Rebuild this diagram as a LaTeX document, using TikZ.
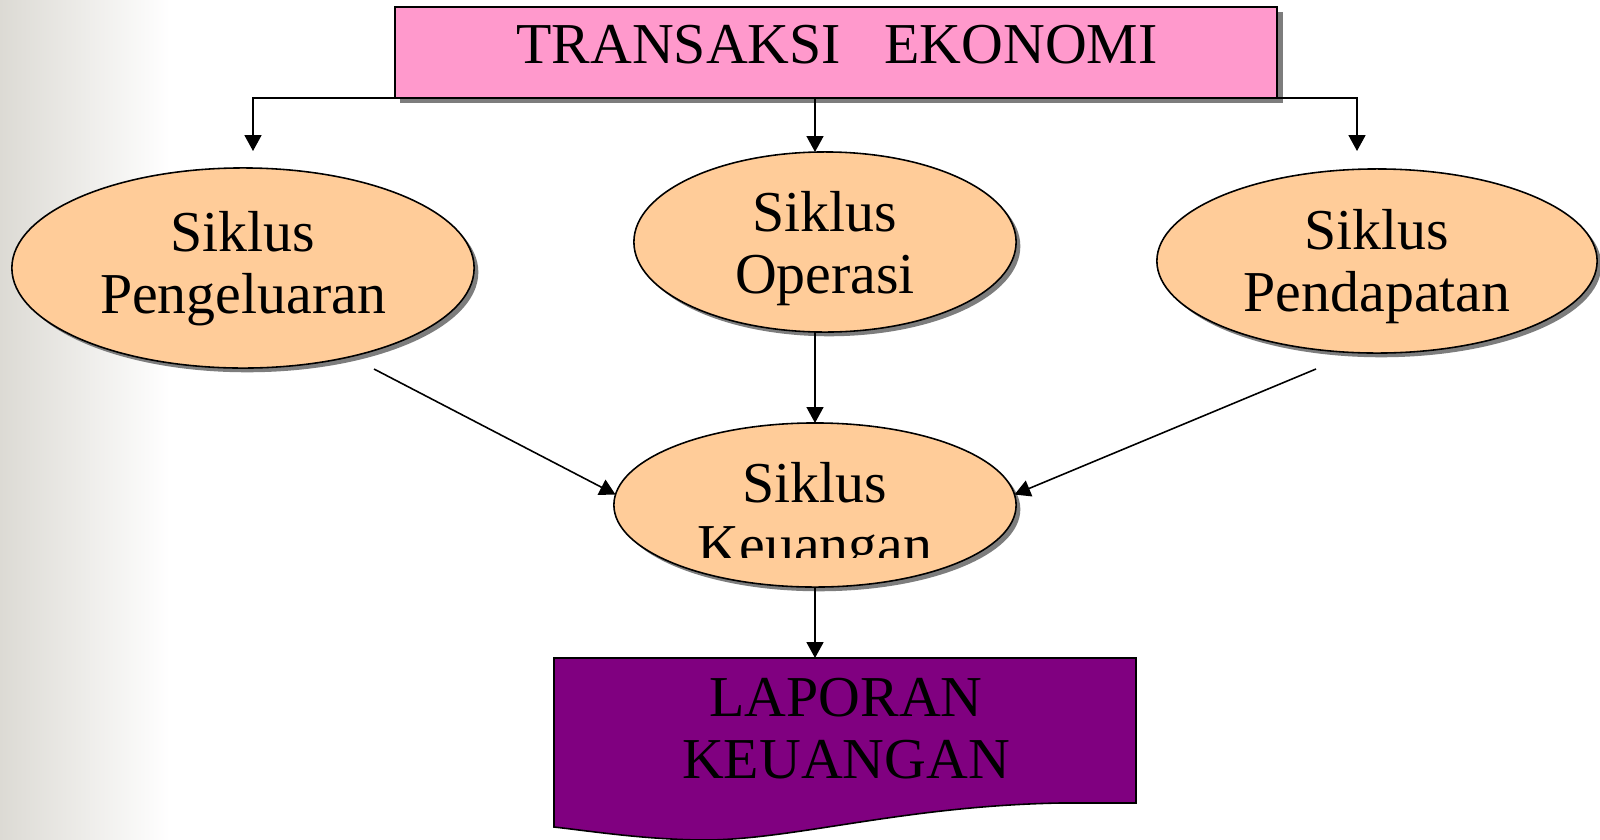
\documentclass[tikz,border=0pt]{standalone}
\usepackage{fontspec}
\setmainfont{Liberation Serif}
\usetikzlibrary{shapes.geometric,arrows.meta,shadows}
\definecolor{pinkbox}{RGB}{255,153,204}
\definecolor{peach}{RGB}{255,204,153}
\definecolor{purp}{RGB}{128,0,128}
\definecolor{shad}{RGB}{125,125,125}
\definecolor{bggray}{RGB}{220,218,212}
\begin{document}
\begin{tikzpicture}[x=0.01cm,y=-0.01cm,
  txt/.style={font=\fontsize{16.45pt}{17.6pt}\selectfont, align=center, inner sep=0pt, outer sep=0pt},
  shd/.style={drop shadow={shadow xshift=1.2pt, shadow yshift=-1.2pt, fill=shad, opacity=1}},
  boxshd/.style={drop shadow={shadow xshift=1.6pt, shadow yshift=-1.5pt, fill=shad, opacity=1}},
  cyc/.style={ellipse, draw=black, line width=0.45pt, fill=peach, inner sep=0pt, outer sep=0pt, shd},
  arr/.style={draw=black, line width=0.45pt, -{Triangle[length=4.5pt,width=4.8pt]}}]
\useasboundingbox (0,0) rectangle (1600,839);
\fill[white] (0,0) rectangle (1600,839);
\shade[left color=bggray, right color=white] (0,0) rectangle (170,839);

% top box
\node[draw=black, line width=0.6pt, fill=pinkbox, minimum width=8.82cm, minimum height=0.91cm,
      inner sep=0pt, outer sep=0pt, boxshd] (top) at (836,52.5) {};
\node[txt] (toptxt) at (837,45) {TRANSAKSI\ \ \ EKONOMI};

% cycles
\node[cyc, minimum width=4.62cm, minimum height=2.00cm] (peng) at (243,268) {};
\node[txt] (pengtxt) at (243,269) {Siklus\\Pengeluaran};
\node[cyc, minimum width=3.82cm, minimum height=1.80cm] (oper) at (825,242) {};
\node[txt] (opertxt) at (825,249) {Siklus\\Operasi};
\node[cyc, minimum width=4.40cm, minimum height=1.84cm] (pend) at (1377,261) {};
\node[txt] (pendtxt) at (1377,267) {Siklus\\Pendapatan};
\node[cyc, minimum width=4.02cm, minimum height=1.64cm] (keu) at (815,505) {};
\begin{scope}
  \clip (600,420) rectangle (1030,557);
  \node[txt] (keutxt) at (815,520) {Siklus\\Keuangan};
\end{scope}

% report (document shape)
\draw[fill=purp, line width=0.45pt] (554,658) -- (1136,658) -- (1136,803) -- (1060,803)
  .. controls (900,806) and (790,841) .. (700,840)
  .. controls (640,839) and (590,831) .. (554,827) -- cycle;
\coordinate (doctop) at (815,658);
\node[txt] (laptxt) at (846,729) {LAPORAN\\KEUANGAN};

% connectors
\coordinate (lt) at (253,151);
\coordinate (rt) at (1357,151);
\draw[arr] (top.south west) -| (lt);
\draw[arr] (top.south east) -| (rt);
\draw[arr] (keu |- top.south) -- (keu |- oper.north);
\draw[arr] (keu |- oper.south) -- (keu.north);
\coordinate (ls) at (374,369);
\coordinate (rs) at (1316,369);
\draw[arr] (ls) -- (keu.177);
\draw[arr] (rs) -- (keu.3);
\draw[arr] (keu.south) -- (doctop);
\end{tikzpicture}
\end{document}
